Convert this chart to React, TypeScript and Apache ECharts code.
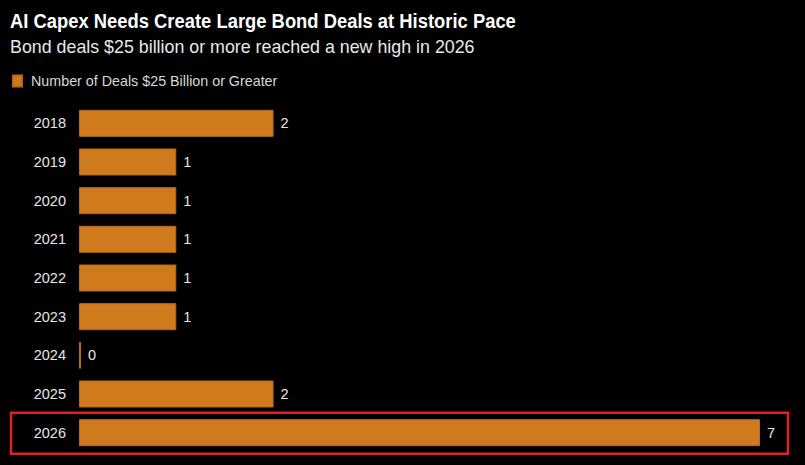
import React, { useEffect, useRef } from "react";
import * as echarts from "echarts";

// Number of bond deals of $25 billion or more, per year
const years = ["2018", "2019", "2020", "2021", "2022", "2023", "2024", "2025", "2026"];
const dealCounts = [2, 1, 1, 1, 1, 1, 0, 2, 7];

const titleText = "AI Capex Needs Create Large Bond Deals at Historic Pace";
const subtitleText = "Bond deals $25 billion or more reached a new high in 2026";
const seriesName = "Number of Deals $25 Billion or Greater";
const highlightYear = "2026";

const BAR_COLOR = "#d07a1e";
const FONT = "'Liberation Sans', Arial, sans-serif";

export default function App() {
  const ref = useRef<HTMLDivElement>(null);

  useEffect(() => {
    if (!ref.current) return;
    const chart = echarts.init(ref.current, null, { renderer: "svg" });

    const gridTop = 104;
    const gridBottom = 465 - 452;
    const gridLeft = 79;
    const gridRight = 45;

    chart.setOption({
      animation: false,
      backgroundColor: "#000000",
      textStyle: { fontFamily: FONT },
      legend: {
        left: 7,
        top: 69,
        icon: "rect",
        itemWidth: 9,
        itemHeight: 11,
        itemGap: 8,
        textStyle: { color: "#d8d8d8", fontSize: 14.3, fontFamily: FONT, padding: [0, 0, 0, 4] },
        data: [seriesName],
      },
      grid: { left: gridLeft, right: gridRight, top: gridTop, bottom: gridBottom, containLabel: false },
      xAxis: {
        type: "value",
        min: 0,
        max: 7,
        show: false,
      },
      yAxis: {
        type: "category",
        inverse: true,
        data: years,
        axisLine: { show: false },
        axisTick: { show: false },
        splitLine: { show: false },
        axisLabel: {
          color: "#e6e6e6",
          fontSize: 14.5,
          margin: 13,
          fontFamily: FONT,
        },
      },
      series: [
        {
          name: seriesName,
          type: "bar",
          data: dealCounts,
          barWidth: 27,
          barMinHeight: 2,
          itemStyle: { color: BAR_COLOR, borderColor: "#b96a17", borderWidth: 1 },
          label: {
            show: true,
            position: "right",
            distance: 7,
            color: "#e6e6e6",
            fontSize: 14.5,
            fontFamily: FONT,
          },
        },
      ],
      graphic: [
        {
          type: "text",
          x: 10,
          y: 11,
          scaleX: 0.92,
          style: {
            text: titleText,
            fill: "#ffffff",
            fontSize: 20,
            fontWeight: "bold",
            fontFamily: FONT,
            verticalAlign: "top",
          },
        },
        {
          type: "text",
          x: 10,
          y: 38,
          scaleX: 0.99,
          style: {
            text: subtitleText,
            fill: "#e8e8e8",
            fontSize: 18,
            fontFamily: FONT,
            verticalAlign: "top",
          },
        },
      ],
    });

    // Red outline around the highlighted year's row, placed from the axis scale
    const idx = years.indexOf(highlightYear);
    const center = chart.convertToPixel({ yAxisIndex: 0 }, idx) as number;
    chart.setOption({
      graphic: [
        {},
        {},
        {
          type: "rect",
          shape: { x: 11, y: center - 20, width: 777, height: 41 },
          style: { fill: "none", stroke: "#e0231f", lineWidth: 2.5 },
          z: 10,
        },
      ],
    });

    return () => chart.dispose();
  }, []);

  return <div ref={ref} style={{ width: 805, height: 465, position: "absolute", left: 0, top: 0 }} />;
}
